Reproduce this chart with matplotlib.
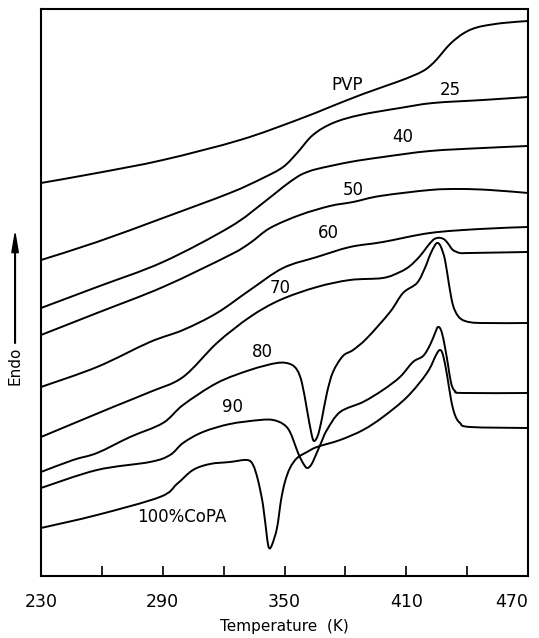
import matplotlib
matplotlib.use("Agg")
import matplotlib.pyplot as plt
from matplotlib.path import Path
from matplotlib.patches import PathPatch, FancyArrow
import numpy as np

# DSC traces, temperature (K) vs heat flow (arbitrary units, curves offset)
t_pvp = [230, 257.6, 290.1, 328.1, 356.2, 372.4, 388.7, 405.4, 413.0, 418.3, 421.7, 425.2, 428.5,
         431.6, 435.0, 438.5, 442.5, 447.8, 457.7, 470]
v_pvp = [393, 403, 416, 436, 456, 469, 482, 494, 500, 505, 510, 517, 525,
         532, 538, 543, 547, 550, 553, 555]

t_25 = [230, 257.6, 290.1, 323.1, 339.4, 349.3, 356.2, 364.0, 373.9, 387.2, 406.9, 423.2, 447.8, 470]
v_25 = [316, 334, 358, 383, 398, 409, 423, 441, 453, 461, 468, 473, 476, 479]

t_40 = [230, 257.6, 290.1, 323.1, 339.4, 349.3, 356.2, 360.0, 366.0, 382.3, 398.5, 421.7, 447.8, 470]
v_40 = [268, 289, 314, 349, 373, 389, 399, 403, 407, 414, 419, 425, 428, 430]

t_50 = [230, 257.6, 290.1, 323.1, 333.0, 342.9, 357.6, 372.4, 383.8, 397.1, 421.7, 436.5, 451.3, 470]
v_50 = [241, 263, 289, 321, 333, 348, 361, 370, 374, 380, 386, 387, 386, 383]

t_60 = [230, 257.6, 283.7, 300.0, 316.7, 333.0, 349.3, 366.0, 382.3, 398.5, 421.7, 446.3, 470]
v_60 = [189, 209, 234, 246, 263, 286, 308, 319, 329, 334, 343, 347, 349]

t_70 = [230, 265.5, 283.7, 300.0, 316.7, 333.0, 347.8, 366.0, 382.3, 398.5, 406.9, 411.8, 416.8,
        420.2, 423.2, 425.2, 427.1, 429.1, 431.1, 433.0, 436.5, 441.4, 470]
v_70 = [139, 169, 184, 199, 233, 259, 276, 289, 296, 298, 304, 310, 320,
        329, 336, 338, 338, 336, 331, 326, 323, 323, 324]

t_80 = [230, 245.8, 257.6, 273.9, 290.1, 300.0, 316.7, 333.0, 346.3, 352.7, 356.2, 358.6, 361.1,
        363.1, 364.5, 366.5, 368.5, 370.9, 373.9, 378.8, 383.8, 390.7, 402.0, 408.4, 415.3, 419.2,
        421.7, 424.2, 425.6, 427.1, 429.1, 431.1, 433.0, 435.5, 439.0, 446.3, 470]
v_80 = [104, 116, 123, 139, 153, 171, 193, 206, 213, 212, 206, 193, 166,
        144, 135, 141, 158, 183, 204, 220, 226, 238, 264, 283, 293, 308,
        321, 331, 333, 329, 316, 291, 271, 260, 255, 253, 253]

t_90 = [230, 257.6, 283.7, 293.6, 300.0, 309.8, 323.1, 337.9, 344.3, 349.3, 352.7, 356.7, 359.1,
        361.1, 363.1, 365.0, 368.0, 370.9, 377.4, 388.7, 398.5, 406.9, 413.3, 418.3, 421.7, 424.2,
        425.6, 427.1, 428.6, 430.6, 432.1, 434.0, 438.0, 470]
v_90 = [88, 106, 114, 121, 133, 144, 152, 156, 156, 152, 144, 123, 113,
        108, 111, 119, 133, 146, 164, 174, 186, 199, 214, 220, 231, 243,
        249, 246, 234, 211, 193, 185, 183, 183]

t_100 = [230, 257.6, 288.6, 297.0, 304.9, 313.3, 323.1, 331.5, 334.5, 336.9, 339.4, 341.4, 342.4,
         343.8, 346.3, 348.3, 350.2, 352.7, 356.2, 361.1, 366.0, 377.4, 388.7, 398.5, 410.4, 420.2,
         424.7, 426.6, 428.1, 430.1, 432.1, 434.0, 436.5, 441.4, 470]
v_100 = [48, 61, 79, 92, 106, 112, 114, 116, 111, 96, 71, 38, 28,
         31, 48, 76, 94, 108, 118, 124, 129, 136, 146, 159, 179, 203,
         221, 226, 221, 201, 176, 161, 153, 149, 148]

curve_labels = ["PVP", "25", "40", "50", "60", "70", "80", "90", "100%CoPA"]
label_t = [380.8, 431.6, 408.4, 383.8, 371.4, 347.8, 338.9, 324.6, 299.5]
label_v = [491, 486, 439, 386, 343, 288, 224, 169, 59]

xticks = [230, 260, 290, 320, 350, 380, 410, 440, 470]
xticklabels = ["230", "", "290", "", "350", "", "410", "", "470"]


def smooth_path(t, v):
    # catmull-rom through the read points, drawn as bezier segments
    p = np.column_stack([t, v]).astype(float)
    p = np.vstack([p[0], p, p[-1]])
    verts = [p[1]]
    codes = [Path.MOVETO]
    for i in range(1, len(p) - 2):
        c1 = p[i] + (p[i + 1] - p[i - 1]) / 6.0
        c2 = p[i + 1] - (p[i + 2] - p[i]) / 6.0
        verts += [c1, c2, p[i + 1]]
        codes += [Path.CURVE4] * 3
    return Path(verts, codes)


fig = plt.figure(figsize=(5.39, 6.38), dpi=100)
ax = fig.add_axes([0.0761, 0.0972, 0.9035, 0.8887])

series = [(t_pvp, v_pvp), (t_25, v_25), (t_40, v_40), (t_50, v_50), (t_60, v_60),
          (t_70, v_70), (t_80, v_80), (t_90, v_90), (t_100, v_100)]
for t, v in series:
    ax.add_patch(PathPatch(smooth_path(t, v), facecolor="none", edgecolor="black",
                           lw=1.4, joinstyle="round", capstyle="round"))

for lab, x, y in zip(curve_labels, label_t, label_v):
    ax.text(x, y, lab, ha="center", va="center", fontsize=12)

ax.set_xlim(230, 470)
ax.set_ylim(0, 567)
ax.set_xticks(xticks)
ax.set_xticklabels(xticklabels, fontsize=12.5)
ax.get_xticklabels()[-1].set_ha("right")
ax.set_yticks([])
ax.tick_params(axis="x", direction="in", length=7, width=1.2, pad=12)
for s in ax.spines.values():
    s.set_linewidth(1.5)
ax.set_xlabel("Temperature  (K)", fontsize=11, labelpad=6)

# Endo arrow on the left
fig.text(0.028, 0.426, "Endo", rotation=90, ha="center", va="center", fontsize=11)
fig.patches.append(FancyArrow(
    0.028, 0.462, 0, 0.172, width=0.0012, head_width=0.012, head_length=0.03,
    length_includes_head=True, color="black", transform=fig.transFigure, figure=fig))

fig.savefig("out.png", dpi=100)
